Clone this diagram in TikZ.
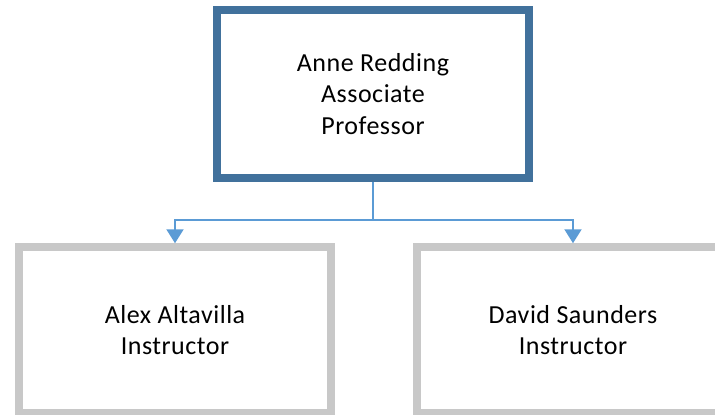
\documentclass[tikz,border=0pt]{standalone}
\usepackage{fontspec}
\setmainfont{Carlito}[LetterSpace=2]
\usetikzlibrary{arrows.meta}
\definecolor{headblue}{HTML}{41719C}
\definecolor{linkblue}{HTML}{5B9BD5}
\definecolor{boxgray}{HTML}{C8C8C8}
\begin{document}
\begin{tikzpicture}[x=1pt,y=-1pt,
  person/.style={rectangle, fill=white, align=center, inner sep=0pt,
    minimum width=312pt, minimum height=166pt,
    font=\fontsize{26}{31.5}\selectfont},
  head/.style={person, draw=headblue, line width=8pt, minimum height=168.5pt},
  staff/.style={person, draw=boxgray, line width=7.5pt},
  link/.style={draw=linkblue, line width=2pt},
  tip/.style={-{Triangle[width=17pt,length=14pt]}}]
\useasboundingbox (0,0) rectangle (715,415);
\clip (0,0) rectangle (715,415);

\node[head] (anne) at (373,94) {Anne Redding\\Associate\\Professor};
\node[staff] (alex) at (175,330) {Alex Altavilla\\Instructor};
\node[staff] (david) at (573,330) {David Saunders\\Instructor};

\coordinate (fork) at (373,220);

\draw[link] (anne.south) -- (fork);
\draw[link, tip] (fork) -| (alex.north);
\draw[link, tip] (fork) -| (david.north);
\end{tikzpicture}
\end{document}
